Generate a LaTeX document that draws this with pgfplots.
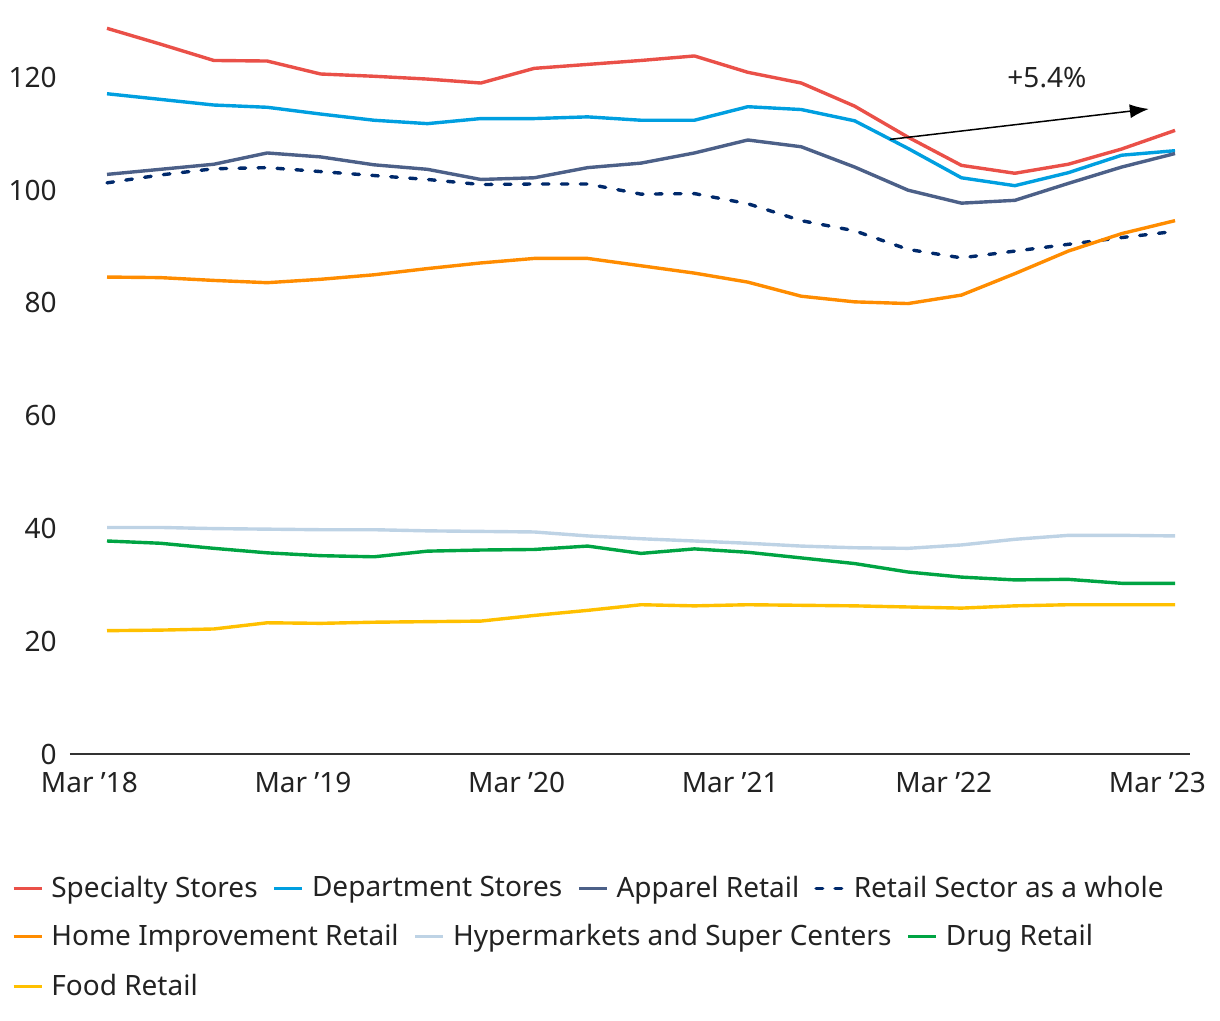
\documentclass[border=0pt]{standalone}
\usepackage{fontspec}
\setmainfont{Noto Sans}
\usepackage{pgfplots}
\usepackage{pgfplotstable}
\pgfplotsset{compat=1.18}
\usetikzlibrary{arrows.meta}

\definecolor{cSpec}{HTML}{EA5048}
\definecolor{cDept}{HTML}{009FE0}
\definecolor{cApp}{HTML}{4C6088}
\definecolor{cRet}{HTML}{00296B}
\definecolor{cHome}{HTML}{FF8C00}
\definecolor{cHyp}{HTML}{BED3E5}
\definecolor{cDrug}{HTML}{00A443}
\definecolor{cFood}{HTML}{FFC000}
\definecolor{txt}{HTML}{222222}
\definecolor{axisc}{HTML}{333333}

\pgfplotstableread{
i  spec  dept  app   retail home hyper drug food
0  128.7 117.1 102.8 101.3  84.6 40.2  37.8 21.9
1  125.9 116.1 103.7 102.7  84.5 40.2  37.4 22.0
2  123.0 115.1 104.6 103.8  84.0 40.0  36.5 22.2
3  122.9 114.7 106.6 104.0  83.6 39.9  35.7 23.3
4  120.6 113.5 105.9 103.3  84.2 39.8  35.2 23.2
5  120.2 112.4 104.5 102.6  85.0 39.8  35.0 23.4
6  119.7 111.8 103.7 101.9  86.1 39.6  36.0 23.5
7  119.0 112.7 101.9 101.0  87.1 39.5  36.2 23.6
8  121.6 112.7 102.2 101.1  87.9 39.4  36.3 24.6
9  122.3 113.0 104.0 101.1  87.9 38.7  36.9 25.5
10 123.0 112.4 104.8  99.3  86.6 38.2  35.6 26.5
11 123.8 112.4 106.6  99.4  85.3 37.8  36.4 26.3
12 120.9 114.8 108.9  97.6  83.7 37.4  35.8 26.5
13 119.0 114.3 107.7  94.6  81.2 36.9  34.8 26.4
14 114.9 112.3 104.1  92.8  80.2 36.6  33.8 26.3
15 109.4 107.4 100.0  89.5  79.9 36.5  32.3 26.1
16 104.4 102.2  97.7  88.0  81.4 37.1  31.4 25.9
17 103.0 100.8  98.2  89.2  85.2 38.1  30.9 26.3
18 104.6 103.1 101.2  90.4  89.2 38.8  31.0 26.5
19 107.3 106.2 104.1  91.6  92.3 38.8  30.3 26.5
20 110.6 107.0 106.5  92.7  94.6 38.7  30.3 26.5
}\data

\pgfplotsset{
  mylegend/.style={
    legend style={draw=none, fill=none, inner sep=0pt, outer sep=0pt, anchor=west,
      font=\fontsize{14}{17}\selectfont, text=txt, legend columns=-1,
      nodes={inner sep=0pt},
      /tikz/every odd column/.append style={column sep=4pt},
      /tikz/every even column/.append style={column sep=7.5pt}},
    legend image code/.code={\draw[##1] (0pt,0pt) -- (14pt,0pt);}
  },
  frame/.style={width=560pt, height=366.6pt, scale only axis}
}

\begin{document}
\begin{tikzpicture}
\begin{axis}[name=main, frame,
  xmin=-0.693, xmax=20.28, ymin=0, ymax=130,
  axis x line*=bottom, axis y line*=left,
  x axis line style={draw=axisc, line width=1pt},
  y axis line style={draw=none},
  ytick={0,20,...,120},
  xtick={-0.33,3.67,7.67,11.67,15.67,19.67},
  xticklabels={Mar ’18,Mar ’19,Mar ’20,Mar ’21,Mar ’22,Mar ’23},
  major tick length=0pt,
  tick label style={font=\fontsize{14}{17}\selectfont, text=txt},
  yticklabel style={inner sep=0pt, xshift=-6.5pt},
  xticklabel style={inner sep=0pt, yshift=-9pt},
  /pgf/number format/assume math mode=true,
  no markers, clip=false,
  every axis plot/.append style={line width=1.7pt, line join=round},
  mylegend, legend style={at={(-0.0518,-0.1828)}}
]
\addplot[color=cSpec] table[x=i,y=spec]{\data};
\addlegendentry{Specialty Stores}
\addplot[color=cDept] table[x=i,y=dept]{\data};
\addlegendentry{Department Stores}
\addplot[color=cApp] table[x=i,y=app]{\data};
\addlegendentry{Apparel Retail}
\addplot[color=cRet, line cap=round, dash pattern=on 3.3pt off 6.2pt] table[x=i,y=retail]{\data};
\addlegendentry{Retail Sector as a whole}
\addplot[color=cHome] table[x=i,y=home]{\data};
\addplot[color=cHyp] table[x=i,y=hyper]{\data};
\addplot[color=cDrug] table[x=i,y=drug]{\data};
\addplot[color=cFood] table[x=i,y=food]{\data};
\draw[-{Latex[length=9.5pt,width=7pt]}, line width=0.75pt, black]
  (axis cs:14.66,109.0) -- (axis cs:19.51,114.4);
\node[font=\fontsize{14}{17}\selectfont, text=txt] at (axis cs:17.6,119.9) {+5.4\%};
\end{axis}
\begin{axis}[frame, hide axis, xmin=0, xmax=1, ymin=0, ymax=1,
  mylegend, legend style={at={(-0.0518,-0.2483)}}]
\addlegendimage{color=cHome, line width=1.7pt}
\addlegendentry{Home Improvement Retail}
\addlegendimage{color=cHyp, line width=1.7pt}
\addlegendentry{Hypermarkets and Super Centers}
\addlegendimage{color=cDrug, line width=1.7pt}
\addlegendentry{Drug Retail}
\end{axis}
\begin{axis}[frame, hide axis, xmin=0, xmax=1, ymin=0, ymax=1,
  mylegend, legend style={at={(-0.0518,-0.3165)}}]
\addlegendimage{color=cFood, line width=1.7pt}
\addlegendentry{Food Retail}
\end{axis}
\pgfresetboundingbox
\path[use as bounding box] ([xshift=-35pt,yshift=-133pt]main.south west) rectangle ([xshift=15pt,yshift=10.5pt]main.north east);
\end{tikzpicture}
\end{document}
